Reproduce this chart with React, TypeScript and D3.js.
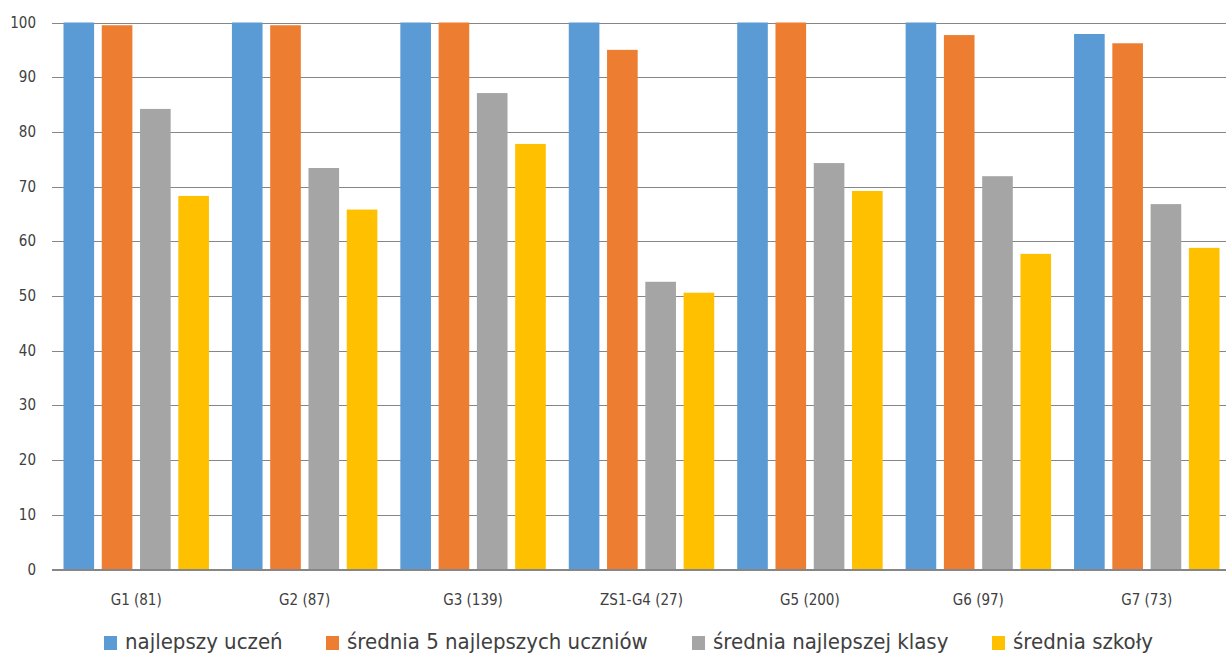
import React from "react";
import * as d3 from "d3";

const categories = ["G1 (81)", "G2 (87)", "G3 (139)", "ZS1-G4 (27)", "G5 (200)", "G6 (97)", "G7 (73)"];
const seriesNames = ["najlepszy uczeń", "średnia 5 najlepszych uczniów", "średnia najlepszej klasy", "średnia szkoły"];
const najlepszyUczen = [100, 100, 100, 100, 100, 100, 97.9];
const srednia5 = [99.5, 99.5, 100, 95.0, 100, 97.7, 96.2];
const sredniaKlasy = [84.2, 73.4, 87.1, 52.6, 74.3, 71.9, 66.8];
const sredniaSzkoly = [68.3, 65.8, 77.8, 50.6, 69.2, 57.7, 58.8];
const yTicks = [0, 10, 20, 30, 40, 50, 60, 70, 80, 90, 100];
const colors = ["#5B9BD5", "#ED7D31", "#A5A5A5", "#FFC000"];

const seriesValues = [najlepszyUczen, srednia5, sredniaKlasy, sredniaSzkoly];

export default function App() {
  const W = 1226, H = 655;
  const left = 52, right = 1231, top = 22.5, bottom = 569.5;
  const font = "'Liberation Sans Narrow', 'DejaVu Sans Condensed', 'Liberation Sans', Arial, sans-serif";

  const x0 = d3.scaleBand<string>().domain(categories).range([left, right]).paddingInner(0).paddingOuter(0);
  const x1 = d3.scaleBand<string>().domain(seriesNames).range([0, x0.bandwidth()]).paddingInner(0.2).paddingOuter(0.3);
  const y = d3.scaleLinear().domain([0, 100]).range([bottom, top]);

  const legendX = [104, 326, 692, 992];

  return (
    <div style={{ position: "absolute", left: 0, top: 0 }}>
      <svg width={W} height={H} style={{ display: "block", background: "#fff" }}>
        {yTicks.map((t) => (
          <g key={t}>
            <line x1={left} x2={W} y1={Math.round(y(t)) + 0.5} y2={Math.round(y(t)) + 0.5} stroke="#868686" strokeWidth={1} />
            <text x={36} y={y(t) + 5} textAnchor="end" fontFamily={font} fontSize={15} fill="#404040">{t}</text>
          </g>
        ))}
        {categories.map((c, i) => (
          <g key={c} transform={`translate(${x0(c)},0)`}>
            {seriesNames.map((s, j) => (
              <rect key={s} x={x1(s)} y={y(seriesValues[j][i])} width={x1.bandwidth()} height={bottom - y(seriesValues[j][i])} fill={colors[j]} />
            ))}
            <text x={x0.bandwidth() / 2} y={605} textAnchor="middle" fontFamily={font} fontSize={15} fill="#404040">{c}</text>
          </g>
        ))}
        <line x1={left} x2={W} y1={bottom} y2={bottom} stroke="#868686" strokeWidth={1} />
        {seriesNames.map((s, j) => (
          <g key={s}>
            <rect x={legendX[j]} y={636} width={13} height={14} fill={colors[j]} />
            <text x={legendX[j] + 21} y={649} fontFamily={font} fontSize={22} fill="#404040">{s}</text>
          </g>
        ))}
      </svg>
    </div>
  );
}
